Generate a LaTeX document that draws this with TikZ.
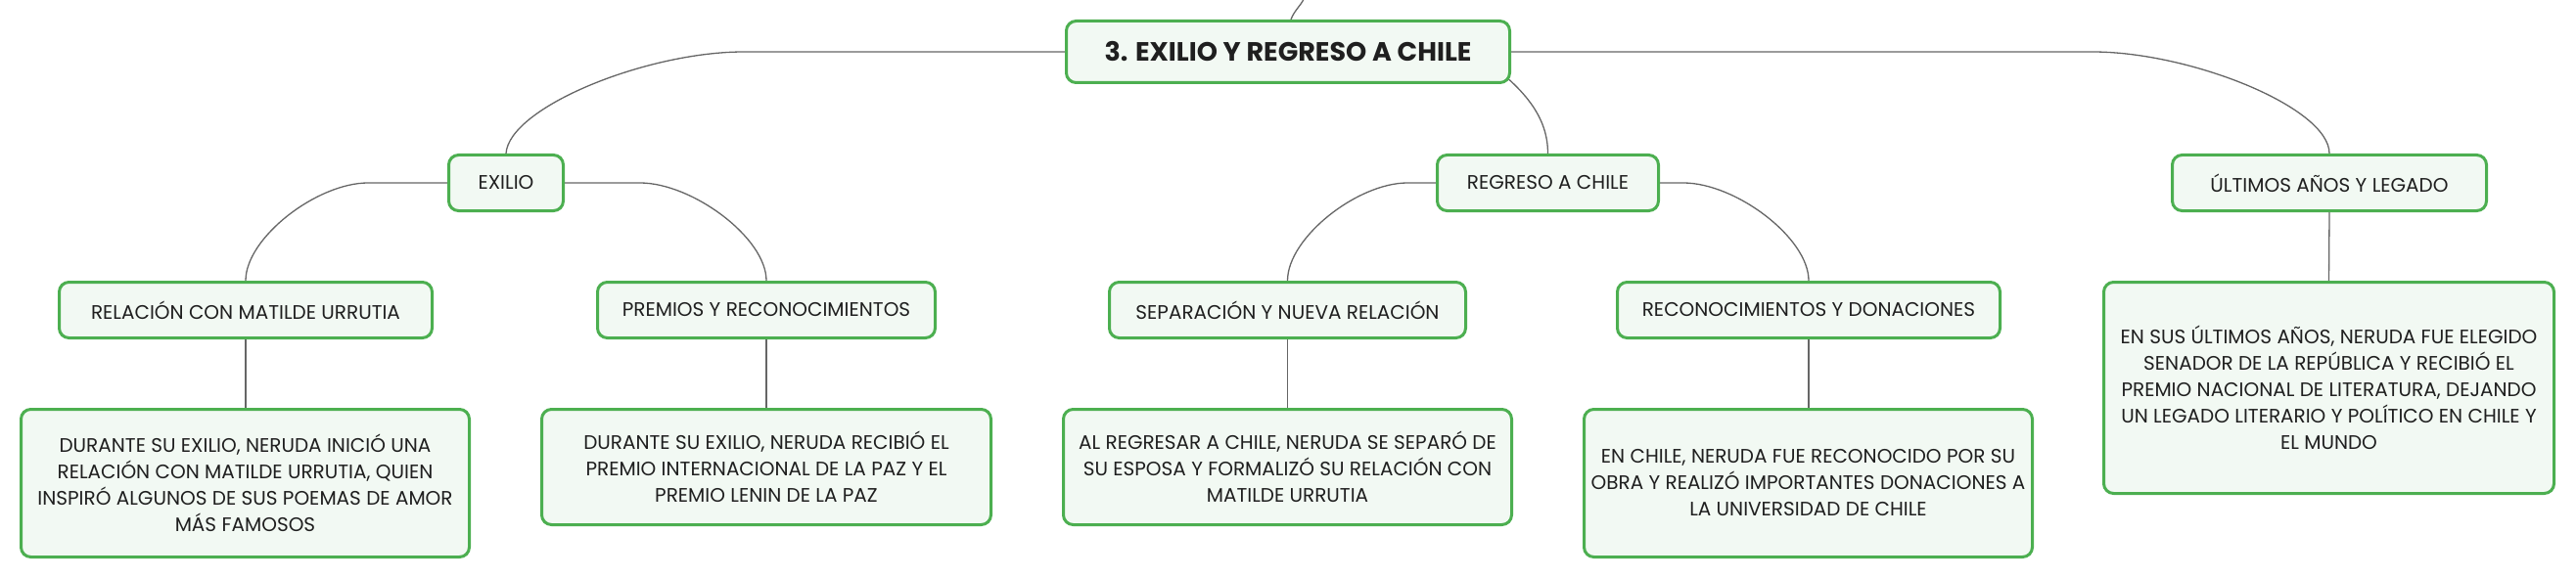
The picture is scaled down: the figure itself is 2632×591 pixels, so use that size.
\documentclass[tikz,border=0pt]{standalone}
\usepackage{fontspec}
\setmainfont{Poppins}
\usetikzlibrary{backgrounds}
\definecolor{bordergreen}{HTML}{4CAF50}
\definecolor{fillgreen}{HTML}{F2F9F3}
\definecolor{linegray}{HTML}{666666}
\begin{document}
\begin{tikzpicture}[x=1pt,y=-1pt,
  box/.style={draw=bordergreen, line width=3pt, fill=fillgreen, rounded corners=10pt,
    inner sep=0pt, align=center, text=black!88},
  lbl/.style={box, minimum height=57, font=\fontsize{20}{24}\selectfont},
  txt/.style={box, font=\fontsize{20}{27}\selectfont},
  conn/.style={draw=linegray, line width=1.3pt}]
\useasboundingbox (0,0) rectangle (2632,591);

\node[box, minimum width=453, minimum height=63, font=\bfseries\fontsize{27}{30}\selectfont] (t) at (1316,53) {3. EXILIO Y REGRESO A CHILE};

\node[lbl, minimum width=117] (ex) at (517,187) {EXILIO};
\node[lbl, minimum width=226] (re) at (1581.5,187) {REGRESO A CHILE};
\node[lbl, minimum width=321] (ul) at (2380,187) {ÚLTIMOS AÑOS Y LEGADO};

\node[lbl, minimum width=381] (rel) at (251,317) {RELACIÓN CON MATILDE URRUTIA};
\node[lbl, minimum width=345] (pre) at (783,317) {PREMIOS Y RECONOCIMIENTOS};
\node[lbl, minimum width=364] (sep) at (1315.5,317) {SEPARACIÓN Y NUEVA RELACIÓN};
\node[lbl, minimum width=391] (rec) at (1848,317) {RECONOCIMIENTOS Y DONACIONES};

\node[txt, minimum width=458, minimum height=151] (d1) at (250.5,494)
  {DURANTE SU EXILIO, NERUDA INICIÓ UNA\\RELACIÓN CON MATILDE URRUTIA, QUIEN\\INSPIRÓ ALGUNOS DE SUS POEMAS DE AMOR\\MÁS FAMOSOS};
\node[txt, minimum width=459, minimum height=118] (d2) at (783,477.5)
  {DURANTE SU EXILIO, NERUDA RECIBIÓ EL\\PREMIO INTERNACIONAL DE LA PAZ Y EL\\PREMIO LENIN DE LA PAZ};
\node[txt, minimum width=458, minimum height=118] (ar) at (1315.5,477.5)
  {AL REGRESAR A CHILE, NERUDA SE SEPARÓ DE\\SU ESPOSA Y FORMALIZÓ SU RELACIÓN CON\\MATILDE URRUTIA};
\node[txt, minimum width=458, minimum height=151] (ec) at (1847.5,494)
  {EN CHILE, NERUDA FUE RECONOCIDO POR SU\\OBRA Y REALIZÓ IMPORTANTES DONACIONES A\\LA UNIVERSIDAD DE CHILE};
\node[txt, minimum width=460, minimum height=216] (es) at (2379.5,396.5)
  {EN SUS ÚLTIMOS AÑOS, NERUDA FUE ELEGIDO\\SENADOR DE LA REPÚBLICA Y RECIBIÓ EL\\PREMIO NACIONAL DE LITERATURA, DEJANDO\\UN LEGADO LITERARIO Y POLÍTICO EN CHILE Y\\EL MUNDO};

\coordinate (top) at (1333,-3);

\begin{pgfonlayer}{background}
\draw[conn] ([xshift=3]t.north) .. controls +(3,-9) and +(-3,8) .. (top);
\draw[conn] (t.west) -- (760,53) .. controls (660,53) and (520,110) .. (ex.north);
\draw[conn] (t.east) -- (2138,53) .. controls (2238,53) and (2380,110) .. (ul.north);
\draw[conn] ([xshift=-39]t.east) .. controls +(55,37) and +(0,-36) .. (re.north);

\draw[conn] (ex.west) -- (376,187) .. controls (324,187) and (251,243) .. (rel.north);
\draw[conn] (ex.east) -- (654,187) .. controls (707,187) and (783,243) .. (pre.north);
\draw[conn] (re.west) -- (1438,187) .. controls (1387,187) and (1315.5,243) .. (sep.north);
\draw[conn] (re.east) -- (1720,187) .. controls (1773,187) and (1848,243) .. (rec.north);

\draw[conn] (rel.south) -- (rel.south |- d1.north);
\draw[conn] (pre.south) -- (d2.north);
\draw[conn] (sep.south) -- (ar.north);
\draw[conn] (rec.south) -- (rec.south |- ec.north);
\draw[conn] (ul.south) -- (es.north);
\end{pgfonlayer}
\end{tikzpicture}
\end{document}
